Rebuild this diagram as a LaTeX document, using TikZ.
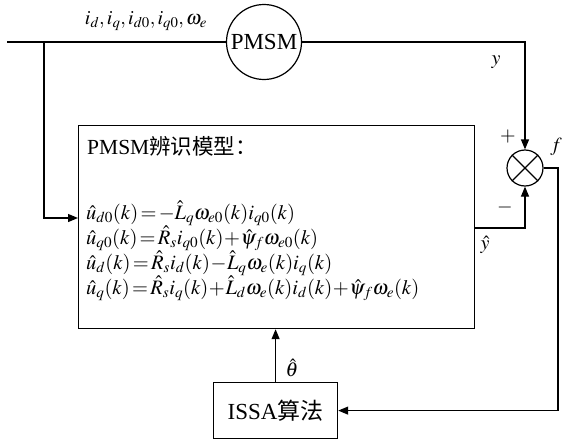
\documentclass[tikz,border=0pt]{standalone}
\usepackage{mathptmx}
\usepackage{fontspec}
\setmainfont{Liberation Serif}
\newfontfamily\cjk{Noto Sans CJK SC}
\usetikzlibrary{arrows.meta}
\tikzset{
  blk/.style={draw,line width=1.2pt,inner sep=0pt},
  lbl/.style={inner sep=0pt,font=\fontsize{20}{24}\selectfont},
  eq/.style={inner sep=0pt,anchor=base west,font=\fontsize{20.5}{24}\selectfont},
  conn/.style={line width=1.2pt},
}
\begin{document}
\begin{tikzpicture}[x=1pt,y=-1pt,>={Triangle[length=10pt,width=8pt]}]
\useasboundingbox (0,0) rectangle (563,439);
\node[blk,circle,minimum size=75pt,font=\fontsize{23}{26}\selectfont] (pmsm) at (264,42) {PMSM};
\node[blk,minimum width=396pt,minimum height=203pt,anchor=north west] (model) at (78,125) {};
\node[blk,circle,minimum size=36pt] (sum) at (525,168) {};
\draw[conn] (sum.north west) -- (sum.south east) (sum.north east) -- (sum.south west);
\node[blk,minimum width=124pt,minimum height=56pt,anchor=north west,font=\fontsize{23}{26}\selectfont] (issa) at (213,382) {ISSA{\cjk 算法}};
\node[lbl,anchor=west,font=\fontsize{21.5}{24}\selectfont] (title) at (87,146) {PMSM{\cjk 辨识模型：}};
\node[eq] (eq1) at (86,219) {$\hat{u}_{d0}(k)\!=\!-\hat{L}_q\omega_{e0}(k)i_{q0}(k)$};
\node[eq] (eq2) at (86,244) {$\hat{u}_{q0}(k)\!=\!\hat{R}_s i_{q0}(k)\!+\!\hat{\psi}_f\omega_{e0}(k)$};
\node[eq] (eq3) at (86,269) {$\hat{u}_{d}(k)\!=\!\hat{R}_s i_{d}(k)\!-\!\hat{L}_q\omega_{e}(k)i_{q}(k)$};
\node[eq] (eq4) at (86,294) {$\hat{u}_{q}(k)\!=\!\hat{R}_s i_{q}(k)\!+\!\hat{L}_d\omega_{e}(k)i_{d}(k)\!+\!\hat{\psi}_f\omega_{e}(k)$};
\node[lbl] (ilbl) at (146,21) {$i_d,i_q,i_{d0},i_{q0},\omega_e$};
\node[lbl] (ylbl) at (496,62) {$y$};
\node[lbl] (plus) at (508,137) {$+$};
\node[lbl] (flbl) at (556,147) {$f$};
\node[lbl] (minus) at (505,207) {$-$};
\node[lbl] (yhat) at (485,245) {$\hat{y}$};
\node[lbl] (theta) at (292,368) {$\hat{\theta}$};
\coordinate (in) at (7,42);
\coordinate (br) at (44,42);
\coordinate (mi) at (78,218);
\coordinate (yo) at (474,228);
\coordinate (fc) at (558,168);
\draw[conn] (in) -- (pmsm.west);
\draw[conn,->] (br) |- (mi);
\draw[conn,->] (pmsm.east) -| (sum.north);
\draw[conn,->] (yo) -| (sum.south);
\draw[conn,->] (sum.east) -- (fc) |- (issa.east);
\draw[conn,->] (issa.north) -- (issa.north |- model.south);
\end{tikzpicture}
\end{document}
